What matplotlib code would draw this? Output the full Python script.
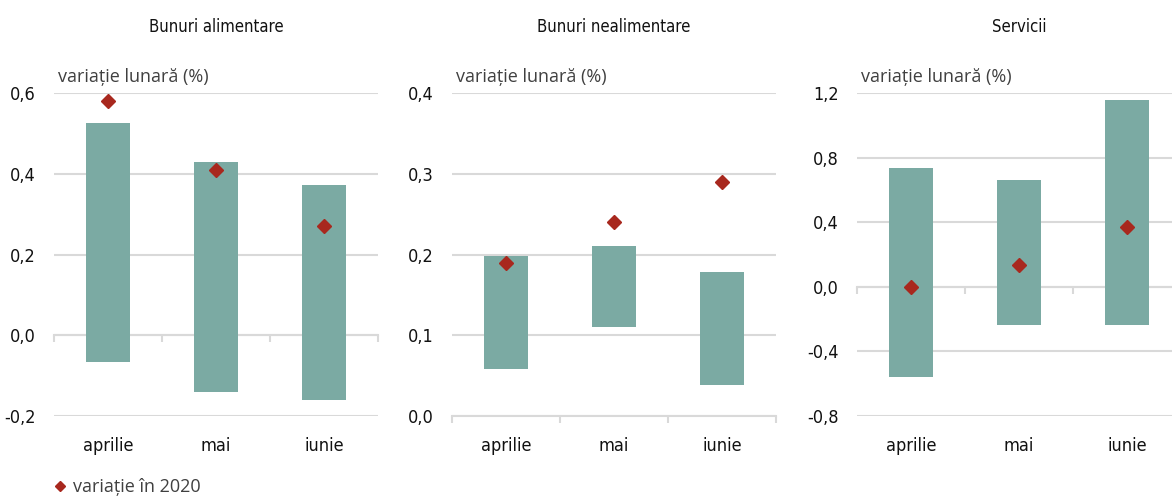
import matplotlib.pyplot as plt
from matplotlib.lines import Line2D

months = ['aprilie', 'mai', 'iunie']
titles = ['Bunuri alimentare', 'Bunuri nealimentare', 'Servicii']

# range of monthly variation (min / max), percent
low_alim = [-0.067, -0.141, -0.161]
high_alim = [0.525, 0.43, 0.372]
val2020_alim = [0.58, 0.41, 0.27]

low_nealim = [0.058, 0.11, 0.038]
high_nealim = [0.198, 0.21, 0.178]
val2020_nealim = [0.19, 0.24, 0.29]

low_serv = [-0.557, -0.235, -0.235]
high_serv = [0.737, 0.66, 1.157]
val2020_serv = [0.0, 0.136, 0.37]

yticks_alim = [-0.2, 0.0, 0.2, 0.4, 0.6]
yticks_nealim = [0.0, 0.1, 0.2, 0.3, 0.4]
yticks_serv = [-0.8, -0.4, 0.0, 0.4, 0.8, 1.2]

BAR = '#7BAAA3'
RED = '#A8281E'
GRID = '#D9D9D9'
cond = dict(family=['DejaVu Sans'], fontstretch='condensed', color='#111111')

fig = plt.figure(figsize=(11.72, 4.96), dpi=100)

lefts = [54/1172, 452/1172, 857/1172]
panels = [
    (low_alim, high_alim, val2020_alim, yticks_alim),
    (low_nealim, high_nealim, val2020_nealim, yticks_nealim),
    (low_serv, high_serv, val2020_serv, yticks_serv),
]

for i, (lo, hi, v, yt) in enumerate(panels):
    ax = fig.add_axes([lefts[i], 1 - 416/496, 324/1172, 323/496])
    x = range(len(months))
    heights = [h - l for h, l in zip(hi, lo)]
    ax.bar(x, heights, bottom=lo, width=0.4, color=BAR, zorder=2)
    ax.plot(x, v, linestyle='none', marker='D', markersize=7.6,
            color=RED, zorder=3)

    ax.set_xlim(-0.5, 2.5)
    ax.set_ylim(yt[0], yt[-1])
    ax.set_yticks(yt)
    ax.set_yticklabels([('%.1f' % t).replace('.', ',') for t in yt],
                       fontsize=13, **cond)
    ax.tick_params(axis='y', length=0, pad=13)
    ax.yaxis.grid(True, color=GRID, linewidth=1.5)
    ax.set_axisbelow(True)

    for s in ['top', 'right', 'left']:
        ax.spines[s].set_visible(False)
    ax.spines['bottom'].set_position(('data', 0))
    ax.spines['bottom'].set_color(GRID)
    ax.spines['bottom'].set_linewidth(1.5)
    ax.spines['bottom'].set_zorder(1)
    ax.set_xticks([-0.5, 0.5, 1.5, 2.5])
    ax.set_xticklabels([])
    ax.tick_params(axis='x', length=5, width=1.5, color=GRID, direction='out')

    for j, m in enumerate(months):
        ax.text(j, -0.093, m, transform=ax.get_xaxis_transform(),
                ha='center', va='center', fontsize=13, **cond)

    ax.text(0.5, 1 + 66/323, titles[i], transform=ax.transAxes,
            ha='center', va='center', fontsize=12, **cond)
    ax.text(0.012, 1 + 16/323, 'variație lunară (%)', transform=ax.transAxes,
            ha='left', va='center', family=['Open Sans', 'DejaVu Sans'],
            fontsize=13, color='#404040')

handle = Line2D([], [], linestyle='none', marker='D', markersize=5, color=RED)
fig.legend([handle], ['variație în 2020'], loc='center left',
           bbox_to_anchor=(33/1172, 1 - 487/496), frameon=False,
           handletextpad=0.1, handlelength=1.2,
           prop={'family': ['Open Sans', 'DejaVu Sans'], 'size': 13},
           labelcolor='#404040')

fig.savefig('out.png', dpi=100)
